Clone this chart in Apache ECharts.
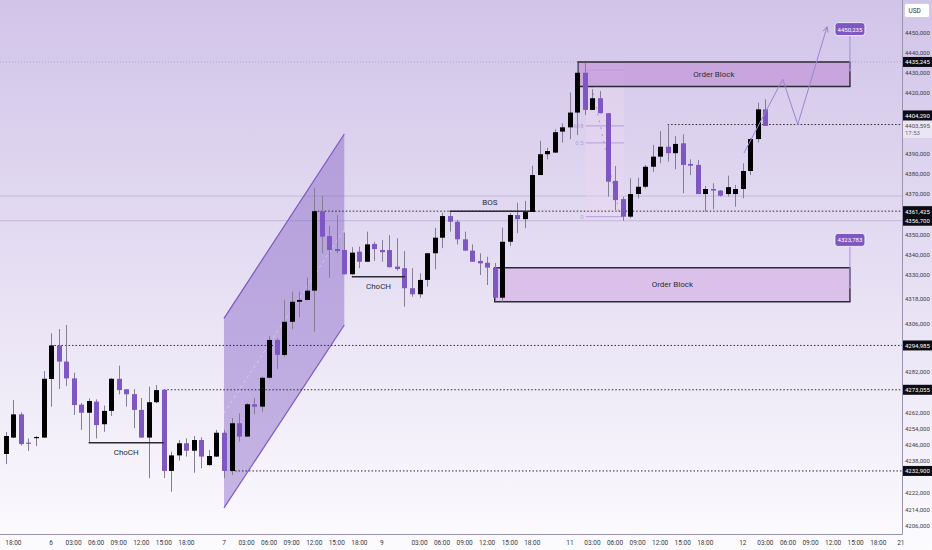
<!DOCTYPE html>
<html><head><meta charset="utf-8">
<script src="https://cdn.jsdelivr.net/npm/echarts@6/dist/echarts.min.js"></script>
<style>html,body{margin:0;padding:0;background:#fff}#c{width:932px;height:550px}</style>
</head><body><div id="c"></div>
<script>
// ---- candle data (hourly, index 0 = day 5 17:00) ----
const opens = [4241.3,4249.4,4260.9,4246.9,4249.2,4249.4,4278.4,4295.0,4287.0,4278.7,
4265.7,4261.7,4267.2,4256.0,4262.6,4278.5,4273.3,4270.9,4263.1,4249.4,
4266.9,4273.05,4232.9,4240.6,4246.6,4242.9,4248.2,4235.8,4240.0,4251.8,
4232.9,4256.5,4249.9,4265.9,4264.7,4279.0,4297.7,4290.3,4306.7,4316.6,
4317.5,4322.1,4361.4,4349.1,4342.7,4342.2,4330.2,4341.4,4336.4,4345.2,
4342.2,4342.2,4334.0,4333.2,4323.3,4320.3,4327.4,4340.6,4348.3,4359.0,
4356.2,4347.5,4341.9,4336.8,4335.9,4333.5,4318.6,4346.3,4359.5,4357.5,
4361.0,4379.3,4389.6,4390.4,4400.8,4402.9,4410.2,4429.9,4411.5,4417.3,
4409.9,4376.4,4367.4,4358.7,4369.9,4373.5,4383.4,4388.4,4393.3,4390.1,
4395.0,4384.8,4384.3,4369.9,4372.4,4371.6,4369.9,4369.9,4372.4,4381.3,
4397.1,4411.8];
const closes = [4250.2,4260.9,4246.2,4246.7,4249.7,4278.5,4295.0,4287.0,4278.7,4265.5,
4261.7,4267.5,4255.6,4262.6,4278.5,4272.9,4270.8,4263.1,4249.4,4266.9,
4272.9,4232.9,4240.6,4246.6,4242.9,4248.2,4240.0,4240.3,4251.8,4232.9,
4256.5,4249.9,4265.9,4264.7,4279.0,4297.7,4290.3,4306.7,4316.6,4317.5,
4322.1,4361.4,4348.8,4342.2,4341.7,4330.2,4340.9,4336.4,4345.0,4342.7,
4341.1,4333.7,4332.8,4323.3,4320.3,4327.4,4340.6,4348.3,4359.0,4356.2,
4347.5,4341.9,4336.4,4335.6,4333.5,4318.6,4346.3,4359.5,4357.5,4361.0,
4379.3,4389.6,4391.2,4400.5,4402.9,4410.2,4429.9,4411.5,4417.3,4409.9,
4376.0,4366.9,4358.7,4369.9,4373.5,4383.4,4388.4,4393.3,4390.1,4394.7,
4384.3,4383.9,4369.9,4372.4,4371.6,4369.1,4373.3,4372.4,4381.3,4397.1,
4411.8,4403.595];
const highs = [4252.2,4268.0,4261.9,4249.0,4250.2,4282.3,4301.0,4303.1,4305.1,4281.5,
4266.5,4268.8,4268.3,4265.2,4278.9,4285.0,4273.4,4273.4,4269.0,4274.6,
4275.4,4273.4,4242.4,4248.2,4249.0,4250.2,4249.5,4243.3,4253.2,4253.2,
4259.1,4261.4,4266.5,4269.1,4279.5,4299.8,4298.5,4317.5,4321.6,4321.6,
4328.5,4372.8,4368.9,4354.1,4359.5,4350.8,4343.6,4343.9,4351.3,4346.3,
4347.2,4349.6,4348.0,4341.7,4333.2,4330.7,4340.7,4353.2,4360.7,4361.4,
4357.1,4351.3,4345.0,4340.6,4338.9,4335.8,4353.3,4360.5,4365.6,4366.5,
4383.9,4396.2,4392.8,4401.9,4404.9,4420.1,4435.2,4434.8,4421.7,4420.9,
4410.0,4383.8,4368.6,4377.7,4378.0,4384.3,4394.2,4401.1,4404.3,4398.6,
4399.5,4387.1,4386.8,4373.9,4375.2,4371.9,4379.0,4374.4,4385.1,4397.5,
4415.1,4416.8];
const lows = [4236.3,4249.2,4245.5,4242.8,4245.2,4249.2,4264.7,4273.4,4274.9,4260.6,
4253.2,4246.9,4249.0,4252.3,4260.1,4270.8,4264.7,4254.0,4249.3,4229.3,
4266.5,4229.4,4222.6,4238.0,4240.0,4232.0,4234.2,4235.3,4239.8,4229.3,
4230.9,4247.4,4249.7,4260.9,4262.2,4278.7,4283.3,4289.4,4303.0,4308.9,
4317.2,4301.8,4340.6,4328.5,4340.6,4330.1,4329.9,4333.2,4336.3,4336.8,
4336.4,4333.5,4332.0,4314.2,4319.1,4318.6,4324.1,4332.7,4343.1,4351.3,
4345.0,4341.7,4336.3,4329.8,4324.9,4317.5,4316.6,4344.2,4350.5,4353.0,
4361.0,4379.3,4387.1,4390.2,4395.3,4397.0,4399.1,4409.0,4411.5,4409.8,
4368.6,4362.0,4356.7,4357.9,4367.8,4372.7,4380.9,4385.1,4385.9,4382.1,
4370.3,4379.3,4369.9,4361.2,4362.4,4368.6,4368.6,4363.6,4367.8,4379.3,
4395.3,4403.595];

// ---- axis tick labels ----
const xTickIndex = [1,6,9,12,15,18,21,24,29,32,35,38,41,44,47,50,55,58,61,64,67,70,75,78,81,84,87,90,93,98,101,104,107,110,113,116,119];
const xTickText = ['18:00','6','03:00','06:00','09:00','12:00','15:00','18:00','7','03:00','06:00','09:00','12:00','15:00','18:00','9','03:00','06:00','09:00','12:00','15:00','18:00','11','03:00','06:00','09:00','12:00','15:00','18:00','12','03:00','06:00','09:00','12:00','15:00','18:00','21'];
const yTickValues = [4206,4214,4222,4238,4246,4254,4262,4282,4306,4318,4330,4340,4350,4370,4380,4390,4420,4430,4440,4450];

// ---- drawn levels / annotations ----
const tagPrices = [4435.245,4404.29,4361.425,4356.7,4294.985,4273.055,4232.9];
const lastPrice = 4403.595;
const countdown = '17:53';
const dottedStart = [88,41,6,21,30];
const dottedPrice = [4404.29,4361.425,4294.985,4273.055,4232.9];
const faintPrices = [4368.9,4356.7];
const topLevel = 4435.245;
const channelPts = [[29,4308.4],[45,4399.6],[45,4305.1],[29,4214.6]];
const obFrom = [76.07,65];
const obTo = [112.24,112.24];
const obTop = [4435.245,4333.4];
const obBottom = [4423.1,4316.6];
const chochFrom = [11,46];
const chochTo = [21,53.1];
const chochPrice = [4246.9,4329.0];
const bosFrom = 59, bosTo = 69.7, bosPrice = 4361.425;
const fibFrom = 77.1, fibTo = 82.2;
const fibLevelNames = ['','0.618','0.5','0'];
const fibLevelPrices = [4431.2,4403.6,4395.2,4358.7];
const pathPts = [[98.15,4390.2],[103.3,4426.7],[105.3,4404.3],[109.2,4452.7]];
const labelX = 112.24;
const labelText = ['4450,235','4323,783'];
const labelPrice = [4451.5,4347.2];
const labelAnchor = [4431.2,4323.783];

const FONT = "Roboto,'Liberation Sans',sans-serif";
const UP = '#000000', DOWN = '#7e57c2', WICK = '#847e94';
const fmt = v => v.toFixed(3).replace('.', ',');

const candleData = opens.map((o,k)=>[k,o,closes[k],lows[k],highs[k]]);

function renderCandle(params, api){
  const i = api.value(0), o = api.value(1), c = api.value(2), l = api.value(3), h = api.value(4);
  const pO = api.coord([i,o]), pC = api.coord([i,c]), pL = api.coord([i,l]), pH = api.coord([i,h]);
  const w = api.size([1,0])[0]*0.66;
  const up = c >= o;
  const top = Math.min(pO[1],pC[1]), bot = Math.max(pO[1],pC[1]);
  const x = Math.round(pO[0]) + 0.5;
  return {type:'group', children:[
    {type:'line', shape:{x1:x,y1:pH[1],x2:x,y2:pL[1]}, style:{stroke:WICK,lineWidth:1}},
    {type:'rect', shape:{x:x-w/2,y:top,width:w,height:Math.max(bot-top,1.2)}, style:{fill:up?UP:DOWN}}
  ]};
}

function renderBack(params, api){
  const cs = params.coordSys;
  const R = cs.x + cs.width;
  const P = (i,p)=>api.coord([i,p]);
  const ch = [];
  const yTop = P(0,topLevel)[1];
  ch.push({type:'line', shape:{x1:cs.x,y1:yTop,x2:R,y2:yTop}, style:{stroke:'#a59cbf',lineWidth:0.8,lineDash:[1,2]}});
  faintPrices.forEach(p=>{const y=P(0,p)[1]; ch.push({type:'line', shape:{x1:cs.x,y1:y,x2:R,y2:y}, style:{stroke:'#b9b0d0',lineWidth:0.8}});});
  const cp = channelPts.map(q=>P(q[0],q[1]));
  ch.push({type:'polygon', shape:{points:cp}, style:{fill:'rgba(126,87,194,0.42)'}});
  ch.push({type:'line', shape:{x1:cp[0][0],y1:cp[0][1],x2:cp[1][0],y2:cp[1][1]}, style:{stroke:'#7e57c2',lineWidth:1.2}});
  ch.push({type:'line', shape:{x1:cp[3][0],y1:cp[3][1],x2:cp[2][0],y2:cp[2][1]}, style:{stroke:'#7e57c2',lineWidth:1.2}});
  const m1 = [(cp[0][0]+cp[3][0])/2,(cp[0][1]+cp[3][1])/2], m2=[(cp[1][0]+cp[2][0])/2,(cp[1][1]+cp[2][1])/2];
  ch.push({type:'line', shape:{x1:m1[0],y1:m1[1],x2:m2[0],y2:m2[1]}, style:{stroke:'rgba(255,255,255,0.35)',lineWidth:1,lineDash:[3,3]}});
  const f1 = P(fibFrom, fibLevelPrices[0]), f2 = P(fibTo, fibLevelPrices[3]);
  ch.push({type:'rect', shape:{x:f1[0],y:yTop,width:f2[0]-f1[0],height:f2[1]-yTop}, style:{fill:'rgba(236,214,240,0.45)'}});
  fibLevelPrices.forEach((p,k)=>{
    const a=P(fibFrom,p), b=P(fibTo,p);
    ch.push({type:'line', shape:{x1:a[0],y1:a[1],x2:b[0],y2:b[1]}, style:{stroke:'#b39ddb',lineWidth:1}});
    if(fibLevelNames[k]) ch.push({type:'text', style:{text:fibLevelNames[k],x:a[0]-2,y:a[1],fill:'#b39ddb',font:'6px '+FONT,align:'right',verticalAlign:'middle'}});
  });
  const d1=P(fibFrom+0.4,4430), d2=P(fibTo-0.6,4360);
  ch.push({type:'line', shape:{x1:d1[0],y1:d1[1],x2:d2[0],y2:d2[1]}, style:{stroke:'#9c88cc',lineWidth:0.8,lineDash:[2,5]}});
  dottedStart.forEach((s,k)=>{const a=P(s,dottedPrice[k]); ch.push({type:'line', shape:{x1:a[0],y1:a[1],x2:R,y2:a[1]}, style:{stroke:'#2a2a35',lineWidth:1,lineDash:[1.5,2]}});});
  const obFill = ['rgba(196,152,218,0.75)','rgba(214,180,230,0.7)'];
  obFrom.forEach((s,k)=>{
    const a=P(s,obTop[k]), b=P(obTo[k],obBottom[k]);
    ch.push({type:'rect', shape:{x:a[0],y:a[1],width:b[0]-a[0],height:b[1]-a[1]}, style:{fill:obFill[k],stroke:'#2b2b33',lineWidth:1.4}});
  });
  return {type:'group', children:ch};
}

function renderFront(params, api){
  const cs = params.coordSys;
  const R = cs.x + cs.width;
  const P = (i,p)=>api.coord([i,p]);
  const ch = [];
  const txt = (t,x,y,size,color,align)=>({type:'text', style:{text:t,x:x,y:y,fill:color,font:size+'px '+FONT,align:align||'center',verticalAlign:'middle'}});
  obFrom.forEach((s,k)=>{
    const a=P(s,obTop[k]), b=P(obTo[k],obBottom[k]);
    ch.push(txt('Order Block',(a[0]+b[0])/2,(a[1]+b[1])/2,8,'#2a2e39'));
  });
  chochFrom.forEach((s,k)=>{
    const a=P(s,chochPrice[k]), b=P(chochTo[k],chochPrice[k]);
    ch.push({type:'line', shape:{x1:a[0],y1:a[1],x2:b[0],y2:b[1]}, style:{stroke:'#2b2b33',lineWidth:1.5}});
    ch.push(txt('ChoCH',(a[0]+b[0])/2,a[1]+10,8,'#2a2e39'));
  });
  const ba=P(bosFrom,bosPrice), bb=P(bosTo,bosPrice);
  ch.push({type:'line', shape:{x1:ba[0],y1:ba[1],x2:bb[0],y2:bb[1]}, style:{stroke:'#2b2b33',lineWidth:1.5}});
  ch.push(txt('BOS',(ba[0]+bb[0])/2,ba[1]-9,8,'#2a2e39'));
  const pp = pathPts.map(q=>P(q[0],q[1]));
  ch.push({type:'polyline', shape:{points:pp}, style:{stroke:'#9a84cf',lineWidth:1,fill:null}});
  const E=pp[pp.length-1], S=pp[pp.length-2];
  const ang=Math.atan2(E[1]-S[1],E[0]-S[0]);
  const hl=6;
  [ang+Math.PI-0.45, ang+Math.PI+0.45].forEach(t=>ch.push({type:'line', shape:{x1:E[0],y1:E[1],x2:E[0]+hl*Math.cos(t),y2:E[1]+hl*Math.sin(t)}, style:{stroke:'#9a84cf',lineWidth:1}}));
  labelText.forEach((t,k)=>{
    const c=P(labelX,labelPrice[k]), an=P(labelX,labelAnchor[k]);
    ch.push({type:'line', shape:{x1:an[0],y1:c[1]+6,x2:an[0],y2:an[1]}, style:{stroke:'#a48fd8',lineWidth:1}});
    ch.push({type:'circle', shape:{cx:an[0],cy:an[1],r:1.3}, style:{fill:'#9a84cf'}});
    ch.push({type:'rect', shape:{x:c[0]-15,y:c[1]-6.5,width:30,height:13,r:3}, style:{fill:'#7e57c2',stroke:'#ffffff',lineWidth:0.8}});
    ch.push(txt(t,c[0],c[1],6,'#ffffff'));
  });
  const tagX = R+1, tagW = 932-R-1;
  const lp = P(0,lastPrice)[1];
  ch.push({type:'rect', shape:{x:tagX,y:lp-5,width:tagW,height:17}, style:{fill:'#ebe6f5'}});
  ch.push(txt(fmt(lastPrice),tagX+2,lp-0.5,6,'#4a4a55','left'));
  ch.push(txt(countdown,tagX+2,lp+7,6,'#6a6a75','left'));
  tagPrices.forEach(p=>{
    let y=P(0,p)[1];
    if(Math.abs(p-lastPrice)<3) y=lp-10.5;
    ch.push({type:'rect', shape:{x:tagX,y:y-5,width:tagW,height:10}, style:{fill:'#0c0c12'}});
    ch.push(txt(fmt(p),tagX+2,y,6,'#ffffff','left'));
  });
  return {type:'group', children:ch};
}

const chart = echarts.init(document.getElementById('c'), null, {renderer:'svg'});
chart.setOption({
  animation:false,
  backgroundColor:{type:'linear',x:0,y:0,x2:0,y2:1,colorStops:[{offset:0,color:'#d1c4e9'},{offset:0.5,color:'#e6dff3'},{offset:1,color:'#fcfbfe'}]},
  grid:{left:0,right:30,top:0,bottom:16,containLabel:false,outerBoundsMode:'none'},
  xAxis:{type:'value',min:-0.785,max:119.162,
    axisLine:{show:true,onZero:false,lineStyle:{color:'#9a93ad',width:1}},
    axisTick:{show:false},splitLine:{show:false},
    axisLabel:{customValues:xTickIndex,formatter:v=>{const k=xTickIndex.indexOf(Math.round(v));return k>=0?xTickText[k]:'';},
      color:'#3a3a45',fontSize:6.5,fontFamily:FONT,margin:5,showMinLabel:true,showMaxLabel:true}},
  yAxis:{type:'value',position:'right',min:4201.7,max:4465.9,
    axisLine:{show:true,onZero:false,lineStyle:{color:'#9a93ad',width:1}},
    axisTick:{show:false},splitLine:{show:false},
    axisLabel:{customValues:yTickValues,formatter:v=>fmt(v),color:'#3a3a45',fontSize:6,fontFamily:FONT,margin:3}},
  graphic:[{type:'group',right:2,top:3,children:[
    {type:'rect',shape:{x:0,y:0,width:25,height:14,r:2},style:{fill:'#ffffff',stroke:'#d4cee2',lineWidth:1}},
    {type:'text',style:{text:'USD',x:4,y:7,fill:'#333',font:'6.5px '+FONT,verticalAlign:'middle'}}]}],
  series:[
    {type:'custom',name:'back',renderItem:renderBack,data:[[0,4300]],z:1,silent:true,clip:false},
    {type:'custom',name:'candles',renderItem:renderCandle,data:candleData,encode:{x:0,y:[1,2,3,4]},z:3,clip:true},
    {type:'custom',name:'front',renderItem:renderFront,data:[[0,4300]],z:5,silent:true,clip:false}
  ]
});
</script></body></html>
